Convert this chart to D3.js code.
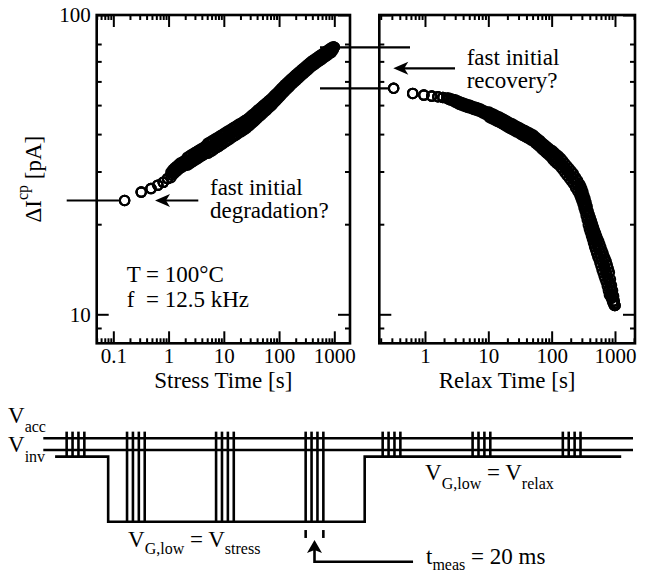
<!DOCTYPE html>
<html>
<head>
<meta charset="utf-8">
<script src="https://cdn.jsdelivr.net/npm/d3@7"></script>
<style>
  body { margin: 0; background: #fff; }
  svg { display: block; font-family: 'Liberation Serif', 'Times New Roman', serif; }
</style>
</head>
<body>
<div id="chart"></div>
<script>
// stress phase: time [s]; upper, middle and lower readings of the noisy delta Icp band [pA]
const stressTime = [0.16, 0.32, 0.48, 0.64, 0.80, 0.96, 1.1, 1.19, 1.28, 1.39, 1.50, 1.62, 1.75, 1.89, 2.04, 2.2,
  2.38, 2.57, 2.78, 3.0, 3.24, 3.5, 3.78, 4.08, 4.41, 4.76, 5.14, 5.55, 6.0, 6.48, 7.0, 7.56, 8.16, 8.81, 9.52,
  10.3, 11, 11.9, 12.8, 13.9, 15.0, 16.2, 17.5, 18.9, 20.4, 22, 23.8, 25.7, 27.8, 30, 32.4, 35, 37.8, 40.8, 44.1,
  47.6, 51.4, 55.5, 60, 64.8, 70, 75.6, 81.6, 88.1, 95.2, 103, 110, 119, 128, 139, 150, 162, 175, 189, 204, 220,
  238, 257, 278, 300, 324, 350, 378, 408, 441, 476, 514, 555, 600, 648, 700, 756, 816, 881, 952, 1000]
const stressUpper = [24.0, 25.6, 26.3, 27.0, 27.6, 28.4, 29.8, 30.4, 30.8, 31.2, 31.6, 32.0, 32.2, 32.5, 32.8, 33.5,
  33.8, 34.1, 34.4, 34.7, 35.0, 35.3, 35.6, 35.9, 36.2, 36.6, 37.3, 37.6, 37.9, 38.2, 38.6, 38.9, 39.2, 39.6, 39.9,
  40.3, 40.6, 41.0, 41.3, 41.7, 42.1, 42.4, 42.8, 43.2, 43.5, 43.9, 44.3, 44.7, 45.2, 45.7, 46.3, 46.8, 47.4, 48.0, 48.6,
  49.2, 49.8, 50.4, 51.0, 51.7, 52.3, 53.0, 53.8, 54.5, 55.3, 56.1, 56.9, 57.7, 58.5, 59.3, 60.1, 61.0, 61.7, 62.5, 63.3, 64.1,
  64.9, 65.7, 66.5, 67.3, 68.1, 69.0, 69.8, 70.5, 71.2, 71.9, 72.6, 73.3, 74.0, 74.8, 75.5, 76.2, 77.0, 77.7, 78.3, 78.0]
const stressMiddle = [24.0, 25.6, 26.3, 27.0, 27.6, 28.4, 29.2, 29.8, 30.2, 30.6, 31.0, 31.4, 31.6, 31.9, 32.2, 32.5,
  32.8, 33.1, 33.4, 33.7, 34.0, 34.3, 34.6, 34.9, 35.2, 35.6, 35.9, 36.2, 36.5, 36.8, 37.2, 37.5, 37.8, 38.2, 38.5,
  38.9, 39.2, 39.6, 39.9, 40.3, 40.7, 41.0, 41.4, 41.8, 42.1, 42.5, 42.9, 43.3, 43.8, 44.3, 44.9, 45.4, 46.0, 46.6, 47.2,
  47.8, 48.4, 49.0, 49.6, 50.3, 50.9, 51.6, 52.4, 53.1, 53.9, 54.7, 55.5, 56.3, 57.1, 57.9, 58.7, 59.6, 60.3, 61.1, 61.9, 62.7,
  63.5, 64.3, 65.1, 65.9, 66.7, 67.6, 68.4, 69.1, 69.8, 70.5, 71.2, 71.9, 72.6, 73.4, 74.1, 74.8, 75.6, 76.3, 77.3, 78.0]
const stressLower = [24.0, 25.6, 26.3, 27.0, 27.6, 28.4, 28.6, 29.2, 29.6, 30.0, 30.4, 30.8, 31.0, 31.3, 31.6, 31.5,
  31.8, 32.1, 32.4, 32.7, 33.0, 33.3, 33.6, 33.9, 34.2, 34.6, 34.5, 34.8, 35.1, 35.4, 35.8, 36.1, 36.4, 36.8, 37.1,
  37.5, 37.8, 38.2, 38.5, 38.9, 39.3, 39.6, 40.0, 40.4, 40.7, 41.1, 41.5, 41.9, 42.4, 42.9, 43.5, 44.0, 44.6, 45.2, 45.8,
  46.4, 47.0, 47.6, 48.2, 48.9, 49.5, 50.2, 51.0, 51.7, 52.5, 53.3, 54.1, 54.9, 55.7, 56.5, 57.3, 58.2, 58.9, 59.7, 60.5, 61.3,
  62.1, 62.9, 63.7, 64.5, 65.3, 66.2, 67.0, 67.7, 68.4, 69.1, 69.8, 70.5, 71.2, 72.0, 72.7, 73.4, 74.2, 74.9, 76.3, 78.0]

// relaxation phase
const relaxTime = [0.32, 0.64, 0.96, 1.28, 1.6, 1.92, 2.24, 2.38, 2.57, 2.78, 3.0, 3.24, 3.5, 3.78, 4.08, 4.41, 4.76,
  5.14, 5.55, 6.0, 6.48, 7.0, 7.56, 8.16, 8.81, 9.52, 10.3, 11, 11.9, 12.8, 13.9, 15.0, 16.2, 17.5, 18.9, 20.4, 22,
  23.8, 25.7, 27.8, 30, 32.4, 35, 37.8, 40.8, 44.1, 47.6, 51.4, 55.5, 60, 64.8, 70, 75.6, 81.6, 88.1, 95.2, 103, 110,
  119, 128, 139, 150, 162, 175, 189, 204, 220, 238, 257, 278, 289, 300, 312, 324, 337, 350, 364, 378, 393, 408, 425,
  441, 458, 476, 495, 514, 534, 555, 577, 600, 624, 648, 674, 700, 728, 756, 786, 816, 848, 881, 916, 952, 976, 1000]
const relaxUpper = [56.9, 54.7, 54.0, 53.6, 53.3, 53.0, 52.7, 52.8, 52.5, 52.2, 52.1, 51.7, 51.3, 51.0, 50.7, 50.4, 50.1,
  49.9, 49.6, 49.3, 49.1, 48.8, 48.5, 48.1, 47.7, 47.4, 47.4, 47.0, 46.7, 46.3, 45.9, 45.6, 45.2, 44.8, 44.4, 44.0, 43.6,
  43.3, 42.9, 42.5, 42.2, 41.8, 41.4, 41.1, 40.7, 40.4, 40.0, 39.7, 39.1, 38.6, 38.1, 37.5, 37.0, 36.5, 36.0, 35.5, 35.2, 34.7,
  34.2, 33.8, 33.2, 32.6, 31.9, 31.3, 30.7, 30.1, 29.5, 28.7, 28.0, 27.2, 26.7, 26.2, 25.6, 24.9, 24.3, 23.6, 22.9, 22.1, 21.5, 21.0, 20.5,
  20.0, 19.5, 19.0, 18.6, 18.2, 17.8, 17.5, 17.1, 16.7, 16.3, 16.0, 15.6, 15.3, 15.0, 14.6, 14.2, 13.8, 13.1, 12.5, 12.0, 11.5, 11.1, 10.7]
const relaxMiddle = [56.9, 54.7, 54.0, 53.6, 53.3, 53.0, 52.7, 52.5, 52.2, 51.9, 51.6, 51.2, 50.8, 50.5, 50.2, 49.9, 49.6,
  49.4, 49.1, 48.8, 48.6, 48.3, 48.0, 47.6, 47.2, 46.9, 46.5, 46.1, 45.8, 45.4, 45.0, 44.7, 44.3, 43.9, 43.5, 43.1, 42.7,
  42.4, 42.0, 41.6, 41.3, 40.9, 40.5, 40.2, 39.8, 39.5, 39.1, 38.8, 38.2, 37.7, 37.2, 36.6, 36.1, 35.6, 35.1, 34.6, 34.1, 33.6,
  33.1, 32.7, 32.1, 31.5, 30.8, 30.2, 29.6, 29.0, 28.4, 27.6, 26.9, 26.1, 25.6, 25.1, 24.5, 23.8, 23.2, 22.5, 21.8, 21.0, 20.4, 19.9, 19.4,
  18.9, 18.4, 17.9, 17.5, 17.1, 16.7, 16.4, 16.0, 15.6, 15.2, 14.9, 14.5, 14.2, 13.9, 13.5, 13.1, 12.7, 12.3, 11.9, 11.5, 11.1, 10.9, 10.7]
const relaxLower = [56.9, 54.7, 54.0, 53.6, 53.3, 53.0, 52.7, 52.2, 51.9, 51.6, 51.1, 50.7, 50.3, 50.0, 49.7, 49.4, 49.1,
  48.9, 48.6, 48.3, 48.1, 47.8, 47.5, 47.1, 46.7, 46.4, 45.6, 45.2, 44.9, 44.5, 44.1, 43.8, 43.4, 43.0, 42.6, 42.2, 41.8,
  41.5, 41.1, 40.7, 40.4, 40.0, 39.6, 39.3, 38.9, 38.6, 38.2, 37.9, 37.3, 36.8, 36.3, 35.7, 35.2, 34.7, 34.2, 33.7, 33.0, 32.5,
  32.0, 31.6, 31.0, 30.4, 29.7, 29.1, 28.5, 27.9, 27.3, 26.5, 25.8, 25.0, 24.5, 24.0, 23.4, 22.7, 22.1, 21.4, 20.7, 19.9, 19.3, 18.8, 18.3,
  17.8, 17.3, 16.8, 16.4, 16.0, 15.6, 15.3, 14.9, 14.5, 14.1, 13.8, 13.4, 13.1, 12.8, 12.4, 12.0, 11.6, 11.5, 11.3, 11.0, 10.8, 10.7, 10.7]

const stressTicks = [0.1, 1, 10, 100, 1000]
const relaxTicks = [1, 10, 100, 1000]
const currentTicks = [10, 100]
const currentMinorTicks = [9, 20, 30, 40, 50, 60, 70, 80]

// measurement schematic (arbitrary time units 0..100)
const pulseGroups = [5.46, 15.7, 30.8, 45.99, 59.05, 74.3, 89.6]
const pulseOffsets = [-1.5, -0.5, 0.5, 1.5]
const gateWave = [[2, 'high'], [11, 'high'], [11, 'low'], [54.5, 'low'], [54.5, 'high'], [98, 'high']]
const stressWindow = [11, 54.5]
const levels = { top: 1.08, acc: 1, inv: 0.86, high: 0.78, low: 0 }

const width = 647
const height = 572
const svg = d3.select('#chart').append('svg')
  .attr('width', width)
  .attr('height', height)

const yScale = d3.scaleLog().domain([8, 100]).range([343.3, 15])
const xStress = d3.scaleLog().domain([0.05, 1923]).range([96.7, 350])
const xRelax = d3.scaleLog().domain([0.19, 2070]).range([379.3, 635])

const isDecade = v => Math.abs(Math.log10(v) - Math.round(Math.log10(v))) < 1e-6

const styleAxis = g => {
  g.select('.domain').remove()
  g.selectAll('line').attr('stroke', '#000').attr('stroke-width', 2)
  g.attr('font-family', null).attr('font-size', 21)
  g.selectAll('text').attr('fill', '#000')
}

const drawFrame = (x, majors, showYLabels) => {
  const [left, right] = x.range()
  const [bottom, top] = yScale.range()
  const minors = x.ticks().filter(v => !isDecade(v))

  svg.append('g').attr('transform', `translate(0,${bottom})`)
    .call(d3.axisBottom(x).tickValues(majors).tickSize(-12).tickPadding(5).tickFormat(d3.format('~g')))
    .call(styleAxis)
  svg.append('g').attr('transform', `translate(0,${bottom})`)
    .call(d3.axisBottom(x).tickValues(minors).tickSize(-5).tickFormat(''))
    .call(styleAxis)
  svg.append('g').attr('transform', `translate(0,${top})`)
    .call(d3.axisTop(x).tickValues(majors).tickSize(-12).tickFormat(''))
    .call(styleAxis)
  svg.append('g').attr('transform', `translate(0,${top})`)
    .call(d3.axisTop(x).tickValues(minors).tickSize(-5).tickFormat(''))
    .call(styleAxis)

  svg.append('g').attr('transform', `translate(${left},0)`)
    .call(d3.axisLeft(yScale).tickValues(currentTicks).tickSize(-12).tickPadding(6)
      .tickFormat(showYLabels ? d3.format('~g') : ''))
    .call(styleAxis)
  svg.append('g').attr('transform', `translate(${left},0)`)
    .call(d3.axisLeft(yScale).tickValues(currentMinorTicks).tickSize(-5).tickFormat(''))
    .call(styleAxis)
  svg.append('g').attr('transform', `translate(${right},0)`)
    .call(d3.axisRight(yScale).tickValues(currentTicks).tickSize(-12).tickFormat(''))
    .call(styleAxis)
  svg.append('g').attr('transform', `translate(${right},0)`)
    .call(d3.axisRight(yScale).tickValues(currentMinorTicks).tickSize(-5).tickFormat(''))
    .call(styleAxis)

  svg.append('rect')
    .attr('x', left).attr('y', top)
    .attr('width', right - left).attr('height', bottom - top)
    .attr('fill', 'none').attr('stroke', '#000').attr('stroke-width', 2.6)
}

const drawSeries = (x, times, readings) => {
  const points = readings.flatMap(r => d3.zip(times, r))
  svg.append('g')
    .selectAll('circle')
    .data(points)
    .join('circle')
      .attr('cx', d => x(d[0]))
      .attr('cy', d => yScale(d[1]))
      .attr('r', 4.7)
      .attr('fill', 'none')
      .attr('stroke', '#000')
      .attr('stroke-width', 2.1)
}

drawFrame(xStress, stressTicks, true)
drawFrame(xRelax, relaxTicks, false)
drawSeries(xStress, stressTime, [stressUpper, stressMiddle, stressLower])
drawSeries(xRelax, relaxTime, [relaxUpper, relaxMiddle, relaxLower])

const text = (x, y, size, anchor) => svg.append('text')
  .attr('x', x).attr('y', y)
  .attr('font-size', size)
  .attr('text-anchor', anchor || 'start')
  .attr('fill', '#000')

text(d3.mean(xStress.range()), 388, 23, 'middle').text('Stress Time [s]')
text(d3.mean(xRelax.range()), 388, 23, 'middle').text('Relax Time [s]')

// y axis title (the cp index sits on the left of the letters, as in the original)
const yTitle = svg.append('text')
  .attr('transform', `translate(41,${d3.mean(yScale.range())}) rotate(-90)`)
  .attr('font-size', 23)
  .attr('text-anchor', 'middle')
yTitle.append('tspan').text('ΔI')
yTitle.append('tspan').attr('font-size', 16).attr('dy', -13).text('cp')
yTitle.append('tspan').attr('dy', 13).text(' [pA]')

// conditions
text(126.7, 281.7, 23).text('T')
text(146, 281.7, 23).text('= 100°C')
text(126.7, 306.7, 23).text('f')
text(146, 306.7, 23).text('= 12.5 kHz')

// annotations
const line = (x1, y1, x2, y2, w) => svg.append('line')
  .attr('x1', x1).attr('y1', y1).attr('x2', x2).attr('y2', y2)
  .attr('stroke', '#000').attr('stroke-width', w || 2.2)

const arrowHead = (x, y, angle) => svg.append('path')
  .attr('d', 'M0,0 L15,-6.5 L11,0 L15,6.5 Z')
  .attr('transform', `translate(${x},${y}) rotate(${angle})`)
  .attr('fill', '#000')

const firstStress = yScale(stressMiddle[0])
line(66.7, firstStress, xStress(stressTime[0]) - 5.6, firstStress)
line(160, firstStress, 198.3, firstStress)
arrowHead(155, firstStress, 0)
text(210, 194.5, 23).text('fast initial')
text(210, 218, 23).text('degradation?')

const lastStress = yScale(stressMiddle[stressMiddle.length - 1])
const firstRelax = yScale(relaxMiddle[0])
line(320, lastStress, 410, lastStress)
line(320, firstRelax, xRelax(relaxTime[0]) - 5.6, firstRelax)
line(398, 68.3, 455, 68.3)
arrowHead(393.3, 68.3, 0)
text(466.7, 65, 23).text('fast initial')
text(466.7, 88.3, 23).text('recovery?')

// measurement schematic
const tScale = d3.scaleLinear().domain([0, 100]).range([43.3, 633])
const lScale = d3.scaleLinear().domain([0, 1]).range([521.7, 438.3])

const wave = svg.append('g').attr('stroke', '#000').attr('stroke-width', 2.6).attr('fill', 'none')
wave.append('line').attr('x1', tScale(0)).attr('x2', tScale(100))
  .attr('y1', lScale(levels.acc)).attr('y2', lScale(levels.acc))
wave.append('line').attr('x1', tScale(0)).attr('x2', tScale(100))
  .attr('y1', lScale(levels.inv)).attr('y2', lScale(levels.inv))
wave.append('path')
  .attr('d', d3.line().x(d => tScale(d[0])).y(d => lScale(levels[d[1]]))(gateWave))

const pulses = pulseGroups.flatMap(g => pulseOffsets.map(o => ({
  t: g + o,
  stress: g > stressWindow[0] && g < stressWindow[1]
})))
wave.selectAll('line.pulse')
  .data(pulses)
  .join('line')
    .attr('class', 'pulse')
    .attr('x1', d => tScale(d.t)).attr('x2', d => tScale(d.t))
    .attr('y1', lScale(levels.top))
    .attr('y2', d => lScale(d.stress ? levels.low : levels.high))

// t_meas marker on the 4th group
const measGroup = pulseGroups[3]
const dashes = [measGroup + pulseOffsets[0], measGroup + pulseOffsets[3]]
wave.selectAll('line.dash')
  .data(dashes)
  .join('line')
    .attr('class', 'dash')
    .attr('x1', d => tScale(d)).attr('x2', d => tScale(d))
    .attr('y1', lScale(-0.1)).attr('y2', lScale(-0.195))
wave.append('path')
  .attr('d', d3.line()([[tScale(62.7), lScale(-0.48)], [tScale(measGroup), lScale(-0.48)], [tScale(measGroup), lScale(-0.3)]]))
svg.append('path')
  .attr('d', 'M0,0 L7.5,13 L0,10 L-7.5,13 Z')
  .attr('transform', `translate(${tScale(measGroup)},${lScale(-0.22)})`)
  .attr('fill', '#000')

const sub = (x, y, parts, shift) => {
  const t = text(x, y, 23)
  const dy = shift || 8
  let shifted = false
  parts.forEach(([s, isSub]) => {
    const span = t.append('tspan').text(s)
    if (isSub && !shifted) { span.attr('font-size', 16).attr('dy', dy); shifted = true }
    else if (isSub) span.attr('font-size', 16)
    else if (shifted) { span.attr('dy', -dy); shifted = false }
  })
  return t
}

sub(8, 423.3, [['V'], ['acc', true]], 9)
sub(8, 452, [['V'], ['inv', true]], 10)
sub(128, 546.7, [['V'], ['G,low', true], [' = V'], ['stress', true]], 7.5)
sub(425, 480, [['V'], ['G,low', true], [' = V'], ['relax', true]], 8.5)
sub(426, 564, [['t'], ['meas', true], [' = 20 ms']], 6)
</script>
</body>
</html>
